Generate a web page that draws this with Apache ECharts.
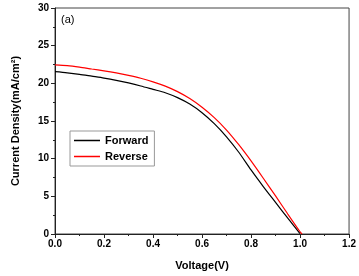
<!DOCTYPE html>
<html><head><meta charset="utf-8">
<script src="https://cdn.jsdelivr.net/npm/echarts@6/dist/echarts.min.js"></script>
<style>html,body{margin:0;padding:0;background:#fff}#c{width:359px;height:276px}</style>
</head><body><div id="c"></div>
<script>
var voltage = [0,0.05,0.1,0.15,0.2,0.25,0.3,0.35,0.4,0.45,0.5,0.55,0.6,0.65,0.7,0.75,0.8,0.85,0.9,0.95,1.0];
var forwardJ = [21.55,21.4,21.2,20.95,20.7,20.4,20.05,19.65,19.2,18.75,18.1,17.25,16.1,14.65,12.9,10.85,8.5,6.3,4.2,2.1,0.05];
var reverseJ = [22.45,22.35,22.15,21.9,21.66,21.38,21.05,20.67,20.2,19.63,18.9,17.98,16.83,15.45,13.8,11.85,9.7,7.4,5.05,2.65,0.3];
var forwardEnd = [1.002, 0];
var reverseEnd = [1.008, 0];
var seriesNames = ['Forward','Reverse'];

function pts(v, j, end){ var a=[]; for(var i=0;i<v.length;i++) a.push([v[i], j[i]]); a.push(end); return a; }

var font = 'Liberation Sans, Arial, sans-serif';
var chart = echarts.init(document.getElementById('c'));
chart.setOption({
  animation:false,
  textStyle:{fontFamily:font},
  title:{text:'(a)', left:56, top:9, textStyle:{fontSize:11, fontWeight:'normal', color:'#000', fontFamily:font}},
  grid:{left:55, right:8, top:8, bottom:41, show:true, borderColor:'#444', borderWidth:1},
  legend:{
    orient:'vertical', left:70, top:131, data:seriesNames, icon:'rect',
    borderColor:'#999', borderWidth:1, padding:[3,6,3,4], itemGap:3,
    itemWidth:26, itemHeight:1.5,
    textStyle:{fontSize:11, fontWeight:'bold', color:'#000', fontFamily:font, lineHeight:13}
  },
  xAxis:{
    type:'value', min:0, max:1.2, interval:0.2,
    name:'Voltage(V)', nameLocation:'middle', nameGap:26,
    nameTextStyle:{fontSize:11, fontWeight:'bold', color:'#000', fontFamily:font},
    axisLine:{show:true, lineStyle:{color:'#222'}},
    axisTick:{show:true, inside:false, length:4, lineStyle:{color:'#222'}},
    minorTick:{show:true, splitNumber:2, length:2, lineStyle:{color:'#222'}},
    splitLine:{show:false},
    axisLabel:{fontSize:10, fontWeight:'bold', color:'#000', margin:5, formatter:function(v){return v.toFixed(1);}}
  },
  yAxis:{
    type:'value', min:0, max:30, interval:5,
    name:'Current Density(mA/cm²)', nameLocation:'middle', nameGap:34, nameRotate:90,
    nameTextStyle:{fontSize:11, fontWeight:'bold', color:'#000', fontFamily:font},
    axisLine:{show:true, lineStyle:{color:'#222'}},
    axisTick:{show:true, inside:false, length:4, lineStyle:{color:'#222'}},
    minorTick:{show:true, splitNumber:2, length:2, lineStyle:{color:'#222'}},
    splitLine:{show:false},
    axisLabel:{fontSize:10, fontWeight:'bold', color:'#000', margin:6}
  },
  series:[
    {name:seriesNames[0], type:'line', smooth:0.25, symbol:'none', data:pts(voltage, forwardJ, forwardEnd), lineStyle:{color:'#000', width:1.2}, itemStyle:{color:'#000'}},
    {name:seriesNames[1], type:'line', smooth:0.25, symbol:'none', data:pts(voltage, reverseJ, reverseEnd), lineStyle:{color:'#f00', width:1.2}, itemStyle:{color:'#f00'}}
  ]
});
</script></body></html>
